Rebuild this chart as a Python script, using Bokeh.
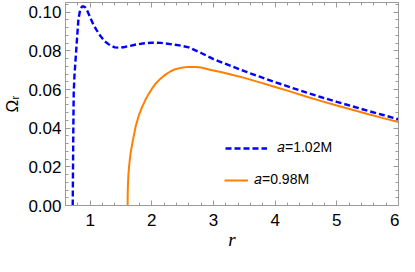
from bokeh.plotting import figure
from bokeh.models import (Range1d, LinearAxis, Legend, LegendItem,
                          SingleIntervalTicker, NumeralTickFormatter)
from bokeh.embed import file_html
from bokeh.resources import INLINE

# ---- data ----
r_a102 = [0.717, 0.722, 0.727, 0.733, 0.745, 0.76, 0.787, 0.81, 0.84, 0.867, 0.89,
          0.92, 0.947, 1.0, 1.05, 1.107, 1.17, 1.24, 1.32, 1.40, 1.48, 1.56, 1.65,
          1.75, 1.88, 2.0, 2.15, 2.3, 2.45, 2.6, 2.8, 3.0, 3.25, 3.5, 3.75, 4.0,
          4.25, 4.5, 4.75, 5.0, 5.25, 5.5, 5.75, 6.0]
omega_a102 = [0.0, 0.020, 0.040, 0.058, 0.067, 0.074, 0.0864, 0.0965, 0.1015,
              0.1029, 0.103, 0.1025, 0.1012, 0.0973, 0.0937, 0.0906, 0.0875,
              0.0848, 0.0829, 0.0818, 0.0816, 0.0820, 0.0826, 0.0833, 0.0839,
              0.0842, 0.0841, 0.0835, 0.0828, 0.0818, 0.0789, 0.0757, 0.0726,
              0.0695, 0.0666, 0.0638, 0.0611, 0.0585, 0.0560, 0.0536, 0.0513,
              0.0490, 0.0468, 0.0446]

r_a098 = [1.607, 1.609, 1.613, 1.62, 1.634, 1.655, 1.687, 1.74, 1.79, 1.847, 1.90,
          1.954, 2.0, 2.06, 2.14, 2.22, 2.30, 2.38, 2.48, 2.59, 2.70, 2.80, 2.96,
          3.1, 3.25, 3.5, 3.75, 4.0, 4.25, 4.5, 4.75, 5.0, 5.25, 5.5, 5.75, 6.0]
omega_a098 = [0.0, 0.006, 0.011, 0.016, 0.0211, 0.027, 0.0328, 0.0412, 0.0467,
              0.0513, 0.0549, 0.058, 0.0603, 0.063, 0.0656, 0.0677, 0.0693,
              0.0705, 0.0713, 0.0717, 0.0717, 0.0714, 0.0701, 0.0692, 0.0680,
              0.0660, 0.0637, 0.0613, 0.0589, 0.0564, 0.0540, 0.0517, 0.0495,
              0.0473, 0.0452, 0.0432]

legend_labels = ["\U0001D44E=1.02M", "\U0001D44E=0.98M"]
x_label = "r"
y_label = "\u03A9\u1D63"

# ---- figure ----
p = figure(width=399, height=256, output_backend="svg", toolbar_location=None,
           x_range=Range1d(0.6, 6.0), y_range=Range1d(0.0, 0.105),
           x_axis_type=None, y_axis_type=None,
           min_border_left=62, min_border_right=1, min_border_top=2,
           min_border_bottom=51)
p.outline_line_color = None
p.background_fill_color = "white"
p.border_fill_color = "white"

GRAY = "#9a9a9a"


def style_axis(ax, labels=True):
    ax.axis_line_color = GRAY
    ax.axis_line_width = 1
    ax.major_tick_line_color = GRAY
    ax.minor_tick_line_color = GRAY
    ax.major_tick_in = 5
    ax.major_tick_out = 0
    ax.minor_tick_in = 3
    ax.minor_tick_out = 0
    if labels:
        ax.major_label_text_font = "Liberation Sans"
        ax.major_label_text_font_size = "17px"
        ax.major_label_text_color = "black"
    else:
        ax.major_label_text_font_size = "1px"
        ax.major_label_text_color = None
        ax.major_label_standoff = 0


def xticker():
    return SingleIntervalTicker(interval=1, num_minor_ticks=5)


def yticker():
    return SingleIntervalTicker(interval=0.02, num_minor_ticks=5)


xb = LinearAxis(ticker=xticker())
style_axis(xb)
xb.major_label_standoff = 8
xb.axis_label = x_label
xb.axis_label_text_font = "Liberation Serif"
xb.axis_label_text_font_style = "italic"
xb.axis_label_text_font_size = "19px"
xb.axis_label_text_color = "black"
xb.axis_label_standoff = 0
p.add_layout(xb, "below")

yl = LinearAxis(ticker=yticker(), formatter=NumeralTickFormatter(format="0.00"))
style_axis(yl)
yl.major_label_standoff = 4
yl.axis_label = y_label
yl.axis_label_text_font = "Liberation Sans"
yl.axis_label_text_font_style = "normal"
yl.axis_label_text_font_size = "17px"
yl.axis_label_text_color = "black"
yl.axis_label_standoff = 3
p.add_layout(yl, "left")

xt = LinearAxis(ticker=xticker())
style_axis(xt, labels=False)
p.add_layout(xt, "above")

yr = LinearAxis(ticker=yticker())
style_axis(yr, labels=False)
p.add_layout(yr, "right")

# ---- curves ----
rb = p.line(r_a102, omega_a102, line_color="#0000ff", line_width=2.4,
            line_dash="6 3")
ro = p.line(r_a098, omega_a098, line_color="#ff8000", line_width=2.0)

# ---- legends ----
common = dict(padding=0, margin=0, border_line_alpha=0, background_fill_alpha=0,
              label_text_font="Liberation Sans", label_text_font_size="14px",
              label_text_color="black", glyph_height=16, label_height=16)
leg1 = Legend(items=[LegendItem(label=legend_labels[0], renderers=[rb])],
              location=(160, 49), glyph_width=42, label_standoff=10, **common)
leg2 = Legend(items=[LegendItem(label=legend_labels[1], renderers=[ro])],
              location=(159, 17), glyph_width=24, label_standoff=6, **common)
p.add_layout(leg1)
p.add_layout(leg2)

open("out.html", "w").write(file_html(p, INLINE))
